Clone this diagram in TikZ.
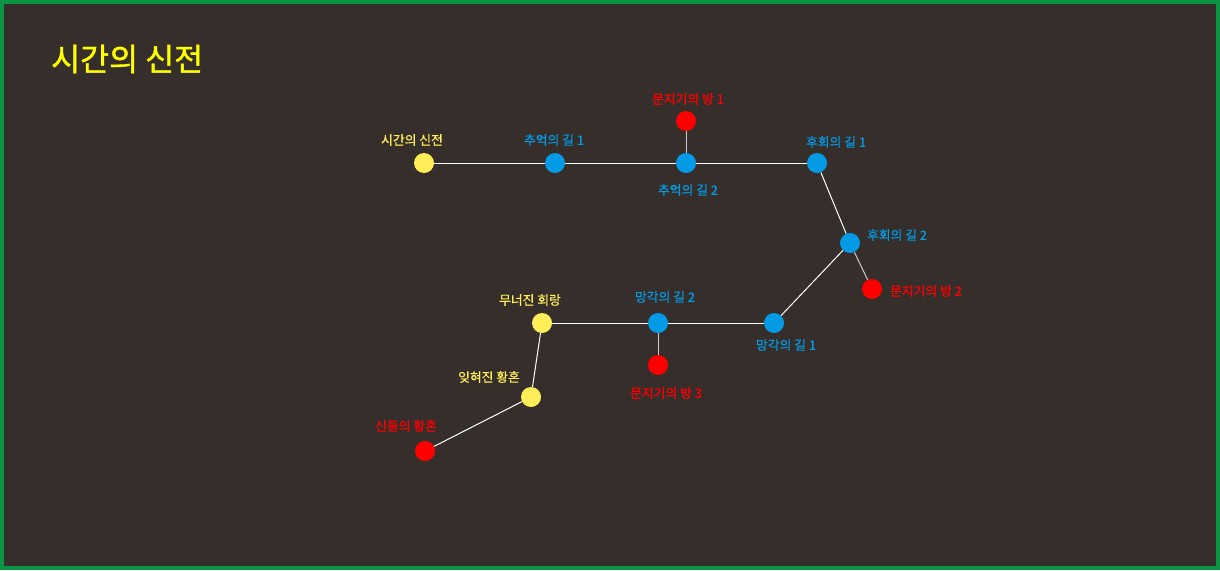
\documentclass[tikz,border=0pt]{standalone}
\usepackage{fontspec}
\setmainfont{Noto Sans CJK KR}
\newfontfamily\cjk[FakeBold=0.6]{Noto Sans CJK KR}
\newfontfamily\cjktitle[FakeBold=1.2]{Noto Sans CJK KR}
\begin{document}
\begin{tikzpicture}[x=1pt,y=-1pt,
  dot/.style={circle,inner sep=0pt,minimum size=20pt},
  ynode/.style={dot,fill=nodeyellow},
  bnode/.style={dot,fill=nodeblue},
  rnode/.style={dot,fill=nodered},
  lbl/.style={font=\cjk\fontsize{12.8}{15}\selectfont,inner sep=0pt},
  ylbl/.style={lbl,text=nodeyellow},
  blbl/.style={lbl,text=nodeblue},
  rlbl/.style={lbl,text=nodered},
  edge/.style={draw=white,line width=1pt},
  sedge/.style={draw=black!20,line width=1pt}]
\definecolor{bg}{HTML}{352E2B}
\definecolor{frame}{HTML}{0B9444}
\definecolor{nodeyellow}{HTML}{FFEE58}
\definecolor{nodeblue}{HTML}{039BE5}
\definecolor{nodered}{HTML}{FF0000}
\definecolor{titleyellow}{HTML}{FFFF00}
\useasboundingbox (0,0) rectangle (1220,570);
\fill[bg] (0,0) rectangle (1220,570);
\draw[frame,line width=4pt] (2,2) rectangle (1218,568);
\node[anchor=west,inner sep=0pt,text=titleyellow,font=\cjktitle\fontsize{31.5}{36}\selectfont] (title) at (51,59) {시간의 신전};
% nodes
\node[ynode] (s) at (424,163) {};
\node[bnode] (c1) at (555,163) {};
\node[bnode] (c2) at (686,163) {};
\node[rnode] (g1) at (686,121) {};
\node[bnode] (h1) at (817,163) {};
\node[bnode] (h2) at (850,243) {};
\node[rnode] (g2) at (872,289) {};
\node[bnode] (m1) at (774,323) {};
\node[bnode] (m2) at (658,323) {};
\node[rnode] (g3) at (658,365) {};
\node[ynode] (w) at (542,323) {};
\node[ynode] (f) at (531,397) {};
\node[rnode] (d) at (425,451) {};
% edges
\draw[edge] (s) -- (c1);
\draw[edge] (c1) -- (c2);
\draw[edge] (c2) -- (h1);
\draw[edge] (h1) -- (h2);
\draw[edge] (h2) -- (m1);
\draw[edge] (m1) -- (m2);
\draw[edge] (m2) -- (w);
\draw[edge] (w) -- (f);
\draw[edge] (f) -- (d);
\draw[sedge] (c2) -- (g1);
\draw[sedge] (h2) -- (g2);
\draw[sedge] (m2) -- (g3);
% labels
\node[ylbl] (ls) at (412,140) {시간의 신전};
\node[blbl] (lc1) at (554,140) {추억의 길 1};
\node[blbl] (lc2) at (688,190) {추억의 길 2};
\node[rlbl] (lg1) at (688,99) {문지기의 방 1};
\node[blbl] (lh1) at (836,142) {후회의 길 1};
\node[blbl] (lh2) at (897,235) {후회의 길 2};
\node[rlbl] (lg2) at (926,291) {문지기의 방 2};
\node[blbl] (lm1) at (786,345) {망각의 길 1};
\node[blbl] (lm2) at (665,297) {망각의 길 2};
\node[rlbl] (lg3) at (666,393) {문지기의 방 3};
\node[ylbl] (lw) at (530,300) {무너진 회랑};
\node[ylbl] (lf) at (489,377) {잊혀진 황혼};
\node[rlbl] (ld) at (406,426) {신들의 황혼};
\end{tikzpicture}
\end{document}
